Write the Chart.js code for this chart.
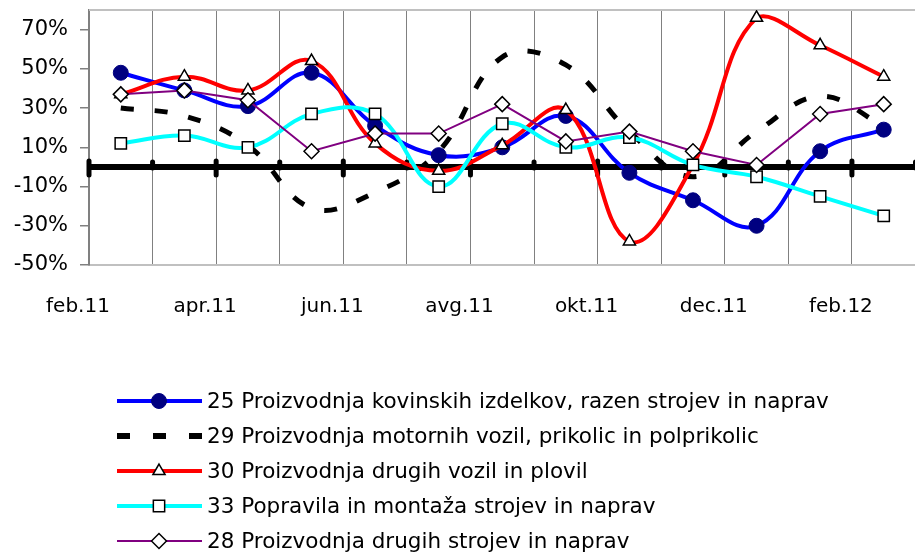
<!DOCTYPE html>
<html><head><meta charset="utf-8">
<script src="https://cdn.jsdelivr.net/npm/chart.js@4/dist/chart.umd.min.js"></script>
<style>html,body{margin:0;padding:0;background:#fff;overflow:hidden}#wrap{width:925px;height:555px}</style>
</head><body><div id="wrap"><canvas id="c" width="925" height="555"></canvas></div>
<script>
const categories = ['feb.11','mar.11','apr.11','maj.11','jun.11','jul.11','avg.11','sep.11','okt.11','nov.11','dec.11','jan.12','feb.12'];
const s25 = [48, 39, 31, 48, 21, 6, 10, 26, -3, -17, -30, 8, 19];
const s29 = [30, 26, 11, -21, -13, 8, 56, 52, 18, -5, 18, 36, 21];
const s30 = [37, 46, 39, 54, 12, -2, 11, 29, -38, 1, 76, 62, 46];
const s33 = [12, 16, 10, 27, 27, -10, 22, 10, 15, 1, -5, -15, -25];
const s28 = [37, 39, 34, 8, 17, 17, 32, 13, 18, 8, 1, 27, 32];
const yTickValues = [-50, -30, -10, 10, 30, 50, 70];
const seriesNames = [
  '25 Proizvodnja kovinskih izdelkov, razen strojev in naprav',
  '29 Proizvodnja motornih vozil, prikolic in polprikolic',
  '30 Proizvodnja drugih vozil in plovil',
  '33 Popravila in montaža strojev in naprav',
  '28 Proizvodnja drugih strojev in naprav'
];

const pts = arr => arr.map((v, i) => ({x: i, y: v}));
const boundaries = [];
for (let i = 0; i <= categories.length; i++) boundaries.push(i - 0.5);

function drawMarker(ctx, style, x, y, r, fill, stroke, lw) {
  ctx.save();
  ctx.fillStyle = fill; ctx.strokeStyle = stroke; ctx.lineWidth = lw; ctx.setLineDash([]);
  ctx.beginPath();
  if (style === 'circle') { ctx.arc(x, y, r, 0, Math.PI * 2); }
  else if (style === 'triangle') {
    for (let k = 0; k < 3; k++) { const a = -Math.PI / 2 + k * 2 * Math.PI / 3; const px = x + Math.cos(a) * r, py = y + Math.sin(a) * r; k ? ctx.lineTo(px, py) : ctx.moveTo(px, py); }
    ctx.closePath();
  } else if (style === 'rect') { const s = Math.SQRT1_2 * r; ctx.rect(x - s, y - s, 2 * s, 2 * s); }
  else if (style === 'rectRot') { ctx.moveTo(x - r, y); ctx.lineTo(x, y - r); ctx.lineTo(x + r, y); ctx.lineTo(x, y + r); ctx.closePath(); }
  ctx.fill(); if (lw > 0) ctx.stroke();
  ctx.restore();
}

const frameZero = {
  id: 'frameZero',
  beforeDatasetsDraw(chart) {
    const {ctx, chartArea: a, scales: {x, y}} = chart;
    ctx.save();
    ctx.strokeStyle = '#c0c0c0'; ctx.lineWidth = 2;
    ctx.beginPath(); ctx.moveTo(a.left, a.top); ctx.lineTo(a.right, a.top); ctx.stroke();
    const y0 = y.getPixelForValue(0);
    ctx.strokeStyle = '#000'; ctx.lineWidth = 6;
    ctx.beginPath(); ctx.moveTo(a.left, y0); ctx.lineTo(a.right, y0); ctx.stroke();
    ctx.lineWidth = 5; ctx.lineCap = 'round';
    x.ticks.forEach((t, i) => {
      const px = x.getPixelForValue(t.value);
      const major = i % 2 === 0;
      ctx.beginPath(); ctx.moveTo(px, y0 - (major ? 6 : 5)); ctx.lineTo(px, y0 + (major ? 8 : 1)); ctx.stroke();
    });
    ctx.restore();
  }
};

const legendRows = {
  id: 'legendRows',
  afterDraw(chart) {
    const ctx = chart.ctx;
    chart.data.datasets.forEach((ds, i) => {
      const yy = 401 + i * 35;
      const x1 = 117, x2 = 202, xm = 159;
      ctx.save();
      ctx.strokeStyle = ds.borderColor; ctx.lineWidth = ds.borderWidth;
      if (ds.borderDash) { ctx.setLineDash([13, 23]); ctx.lineWidth = 6; }
      ctx.beginPath(); ctx.moveTo(x1, yy); ctx.lineTo(x2, yy); ctx.stroke();
      ctx.restore();
      if (ds.pointRadius > 0) drawMarker(ctx, ds.pointStyle, xm, yy, ds.pointRadius, ds.pointBackgroundColor, ds.pointBorderColor, ds.pointBorderWidth);
      ctx.save();
      ctx.fillStyle = '#000'; ctx.font = '21.5px "DejaVu Sans"'; ctx.textBaseline = 'middle'; ctx.textAlign = 'left';
      ctx.fillText(ds.label, 207, yy + 1);
      ctx.restore();
    });
  }
};

new Chart(document.getElementById('c'), {
  type: 'line',
  data: {
    datasets: [
      {label: seriesNames[0], data: pts(s25), borderColor: '#0000ff', borderWidth: 4, pointStyle: 'circle', pointRadius: 7.5, pointBackgroundColor: '#000080', pointBorderColor: '#000080', pointBorderWidth: 1, tension: 0.4, order: 5},
      {label: seriesNames[1], data: pts(s29), borderColor: '#000000', borderWidth: 5, borderDash: [13, 21], pointRadius: 0, tension: 0.4, order: 4},
      {label: seriesNames[2], data: pts(s30), borderColor: '#ff0000', borderWidth: 4, pointStyle: 'triangle', pointRadius: 7, pointBackgroundColor: '#ffffff', pointBorderColor: '#000000', pointBorderWidth: 1.5, tension: 0.4, order: 3},
      {label: seriesNames[3], data: pts(s33), borderColor: '#00ffff', borderWidth: 4, pointStyle: 'rect', pointRadius: 8, pointBackgroundColor: '#ffffff', pointBorderColor: '#000000', pointBorderWidth: 1.5, tension: 0.4, order: 2},
      {label: seriesNames[4], data: pts(s28), borderColor: '#800080', borderWidth: 2, pointStyle: 'rectRot', pointRadius: 7.5, pointBackgroundColor: '#ffffff', pointBorderColor: '#000000', pointBorderWidth: 1.5, tension: 0, order: 1}
    ]
  },
  options: {
    responsive: false, animation: false, devicePixelRatio: 1,
    layout: {padding: {top: 10, right: 4, left: 0, bottom: 0}},
    plugins: {legend: {display: false}, tooltip: {enabled: false}},
    scales: {
      x: {
        type: 'linear', min: -0.5, max: 12.5,
        afterBuildTicks: s => { s.ticks = boundaries.map(v => ({value: v})); },
        afterFit: s => { s.height = 290; s.paddingLeft = 0; s.paddingRight = 0; },
        grid: {color: '#808080', lineWidth: 1, drawTicks: false},
        border: {color: '#c0c0c0', width: 2},
        ticks: {autoSkip: false, maxRotation: 0, padding: 30, labelOffset: -11, color: '#000', font: {family: 'DejaVu Sans', size: 20},
          callback: v => { const k = Math.round(v + 0.5); return k % 2 === 0 && k < categories.length ? categories[k] : ''; }}
      },
      y: {
        min: -50, max: 80,
        afterBuildTicks: s => { s.ticks = yTickValues.map(v => ({value: v})); },
        afterFit: s => { s.width = 89; s.paddingTop = 0; s.paddingBottom = 0; },
        grid: {drawOnChartArea: false, color: '#808080', tickLength: 9, lineWidth: 1.5},
        border: {color: '#808080', width: 2},
        ticks: {padding: 12, color: '#000', font: {family: 'DejaVu Sans', size: 21}, callback: v => v + '%'}
      }
    }
  },
  plugins: [frameZero, legendRows]
});
</script></body></html>
